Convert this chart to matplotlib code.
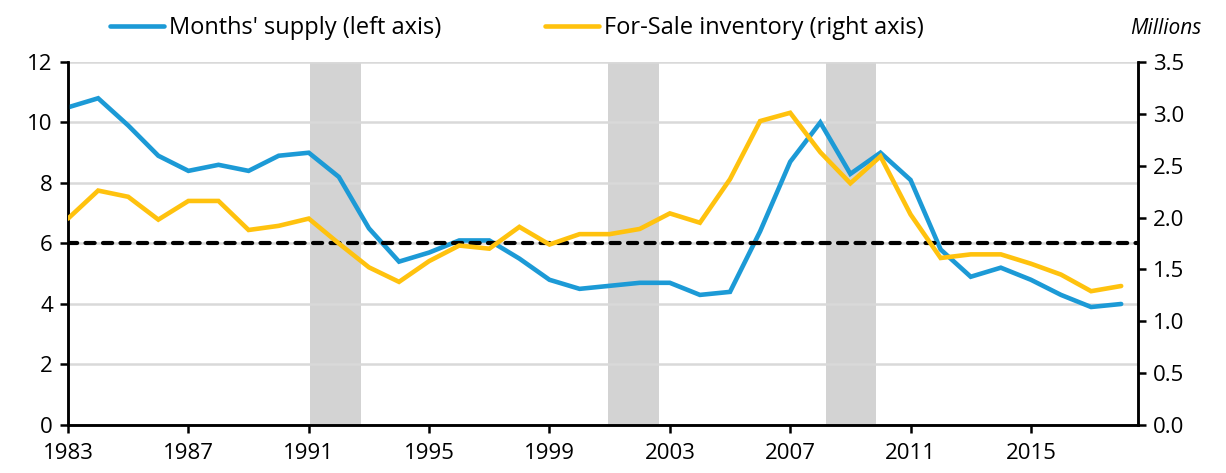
import numpy as np
import matplotlib
matplotlib.use('Agg')
import matplotlib.pyplot as plt

plt.rcParams['font.family'] = ['Open Sans', 'DejaVu Sans']

years = list(range(1983, 2019))
# months' supply, left axis
months_supply = [10.5, 10.8, 9.9, 8.9, 8.4, 8.6, 8.4, 8.9, 9.0, 8.2,
                 6.5, 5.4, 5.7, 6.1, 6.1, 5.5, 4.8, 4.5, 4.6, 4.7,
                 4.7, 4.3, 4.4, 6.4, 8.7, 10.0, 8.3, 9.0, 8.1, 5.8,
                 4.9, 5.2, 4.8, 4.3, 3.9, 4.0]
# for-sale inventory, millions, right axis
inventory = [1.99, 2.26, 2.20, 1.98, 2.16, 2.16, 1.88, 1.92, 1.99, 1.75,
             1.52, 1.38, 1.58, 1.73, 1.70, 1.91, 1.74, 1.84, 1.84, 1.89,
             2.04, 1.95, 2.37, 2.93, 3.01, 2.63, 2.33, 2.59, 2.03, 1.61,
             1.645, 1.645, 1.555, 1.45, 1.29, 1.34]
recessions = [(1991.05, 1992.73), (2000.93, 2002.65), (2008.18, 2009.86)]
xticks = [1983, 1987, 1991, 1995, 1999, 2003, 2007, 2011, 2015]

blue = '#1c9ad6'
gold = '#ffc20e'

fig = plt.figure(figsize=(12.26, 4.73), dpi=100)
ax = fig.add_axes([0.0555, 0.1015, 0.8725, 0.7675])
ax2 = ax.twinx()

for a, b in recessions:
    ax.axvspan(a, b, color='#d3d3d3', lw=0, zorder=0)

ax.set_yticks(range(0, 13, 2))
ax.yaxis.grid(True, color='#d9d9d9', lw=1.8)
ax.set_axisbelow(True)

l1, = ax.plot(years, months_supply, color=blue, lw=3.3, zorder=3,
              solid_capstyle='round', solid_joinstyle='miter',
              label="Months' supply (left axis)")
l2, = ax2.plot(years, inventory, color=gold, lw=3.3, zorder=3,
               solid_capstyle='round', solid_joinstyle='miter',
               label='For-Sale inventory (right axis)')
ax.axhline(6, color='black', lw=3, ls=(0, (2.2, 2.0)), dash_capstyle='round',
           zorder=4)

ax.set_xlim(1983, 2018.55)
ax.set_ylim(0, 12)
ax2.set_ylim(0, 3.5)
ax2.set_yticks(np.arange(0, 3.51, 0.5))
ax2.set_yticklabels(['%.1f' % v for v in np.arange(0, 3.51, 0.5)])
ax.set_xticks(xticks)
ax.set_xticklabels([str(y) for y in xticks])

for a in (ax, ax2):
    a.spines['top'].set_visible(False)
    a.spines['left'].set_linewidth(1.8)
    a.spines['right'].set_linewidth(1.8)
    a.spines['bottom'].set_linewidth(1.8)
    a.tick_params(labelsize=16, width=1.8, length=6, colors='black')
ax.tick_params(axis='x', pad=7)
ax.tick_params(axis='y', pad=5)
ax2.tick_params(axis='y', pad=5)
ax2.set_zorder(ax.get_zorder() + 1)
ax2.patch.set_visible(False)

fig.legend(handles=[l1, l2], loc='center left', bbox_to_anchor=(0.072, 0.94),
           ncol=2, frameon=False, fontsize=17, columnspacing=4.4,
           handlelength=2.3, handletextpad=0.2)
fig.text(0.98, 0.94, 'Millions', ha='right', va='center', fontsize=15,
         style='italic')

fig.savefig('out.png', dpi=100)
